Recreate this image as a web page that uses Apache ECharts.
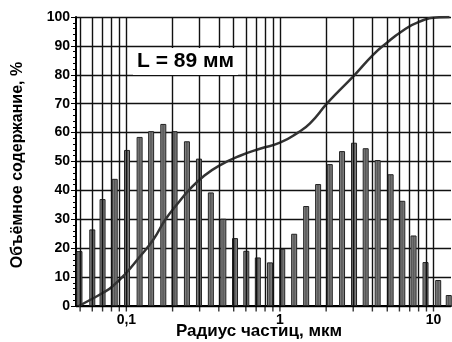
<!DOCTYPE html>
<html>
<head>
<meta charset="utf-8">
<script src="https://cdn.jsdelivr.net/npm/echarts@6/dist/echarts.min.js"></script>
<style>
  html, body { margin: 0; padding: 0; background: #fff; }
  #chart { width: 452px; height: 342px; }
</style>
</head>
<body>
<div id="chart"></div>
<script>
// радиусы частиц (мкм) и высоты столбцов (%)
var barRadius = [0.0495, 0.060, 0.070, 0.084, 0.101, 0.122, 0.145, 0.174, 0.206, 0.248,
                 0.297, 0.355, 0.428, 0.510, 0.604, 0.718, 0.861, 1.035, 1.238, 1.482,
                 1.773, 2.112, 2.538, 3.038, 3.618, 4.329, 5.258, 6.264, 7.417, 8.872,
                 10.73, 12.57];
var barValue = [19, 26.5, 37, 44, 54, 58.5, 60.5, 63, 60.5, 57,
                51, 39.3, 30.2, 23.5, 19.1, 16.8, 15.1, 19.8, 25, 34.6,
                42.2, 49.1, 53.6, 56.5, 54.6, 50.5, 45.6, 36.4, 24.4, 15.2,
                9, 3.8];
// интегральная кривая
var curveRadius = [0.049, 0.060, 0.070, 0.080, 0.100, 0.120, 0.150, 0.180, 0.220, 0.260,
                   0.320, 0.400, 0.550, 0.750, 1.0, 1.31, 1.57, 2.02, 2.45, 3.07,
                   4.04, 4.93, 6.17, 8.11, 10.9, 12.7];
var curveValue = [0, 2.5, 4.5, 6.5, 11.5, 16.5, 23, 30, 36, 40.5,
                  45, 48.5, 52, 54.5, 56.5, 60, 63.2, 70, 74.7, 80,
                  86.9, 90.9, 94.9, 98.4, 99.9, 100];
// вертикальные линии сетки
var gridX = [0.05, 0.06, 0.07, 0.08, 0.09, 0.1, 0.2, 0.3, 0.4, 0.5, 0.6, 0.7, 0.8, 0.9,
             1, 2, 3, 4, 5, 6, 7, 8, 9, 10];
var yTicks = [0, 10, 20, 30, 40, 50, 60, 70, 80, 90, 100];

var myChart = echarts.init(document.getElementById('chart'));

var bars = barRadius.map(function (r, i) { return [r, barValue[i]]; });
var curve = curveRadius.map(function (r, i) { return [r, curveValue[i]]; });
var ticks = gridX.map(function (v) { return [v, 0]; });

var option = {
    animation: false,
    grid: { left: 76, right: 1, top: 17, bottom: 36 },
    xAxis: {
        type: 'log',
        logBase: 10,
        min: 0.047,
        max: 13,
        axisLine: { lineStyle: { color: '#000', width: 2 } },
        axisTick: { show: false },
        splitLine: { show: false },
        axisLabel: {
            color: '#000',
            fontFamily: 'Liberation Sans',
            fontWeight: 'bold',
            fontSize: 14,
            margin: 7,
            showMinLabel: false,
            showMaxLabel: false,
            formatter: function (v) {
                var l = Math.log(v) / Math.LN10;
                if (Math.abs(l - Math.round(l)) > 1e-6) return '';
                return String(Math.round(v * 10) / 10).replace('.', ',');
            }
        }
    },
    yAxis: {
        type: 'value',
        min: yTicks[0],
        max: yTicks[yTicks.length - 1],
        interval: 10,
        axisLine: { show: true, lineStyle: { color: '#000', width: 2 } },
        axisTick: { show: true, length: 5, lineStyle: { color: '#000' } },
        minorTick: { show: true, splitNumber: 5, length: 3, lineStyle: { color: '#000' } },
        splitLine: { lineStyle: { color: '#111', width: 1.4 } },
        axisLabel: {
            color: '#000',
            fontFamily: 'Liberation Sans',
            fontWeight: 'bold',
            fontSize: 14,
            margin: 6
        }
    },
    graphic: [
        {
            type: 'text', left: 133, top: 48, z: 10,
            style: {
                text: 'L = 89 мм',
                fill: '#000',
                font: 'bold 21px "Liberation Sans"',
                backgroundColor: '#fff',
                padding: [3, 4, 3, 4]
            }
        },
        {
            type: 'text', x: 18, y: 165, rotation: Math.PI / 2, z: 10,
            style: {
                text: 'Объёмное содержание, %',
                fill: '#000',
                font: 'bold 16px "Liberation Sans"',
                align: 'center',
                verticalAlign: 'middle'
            }
        },
        {
            type: 'text', x: 259, y: 331, z: 10,
            style: {
                text: 'Радиус частиц, мкм',
                fill: '#000',
                font: 'bold 17px "Liberation Sans"',
                align: 'center',
                verticalAlign: 'middle'
            }
        }
    ],
    series: [
        {
            name: 'grid',
            type: 'line',
            data: [],
            z: 1,
            silent: true,
            markLine: {
                silent: true,
                symbol: ['none', 'none'],
                label: { show: false },
                lineStyle: { color: '#111', width: 1.4, type: 'solid' },
                data: gridX.map(function (v) { return { xAxis: v }; })
            }
        },
        {
            name: 'ticks',
            type: 'scatter',
            data: ticks,
            clip: false,
            silent: true,
            z: 1,
            symbol: 'rect',
            symbolSize: [1.4, 5],
            symbolOffset: [0, 3],
            itemStyle: { color: '#000' }
        },
        {
            name: 'bars',
            type: 'bar',
            data: bars,
            barWidth: 6,
            z: 3,
            itemStyle: {
                borderColor: '#222',
                borderWidth: 1,
                color: new echarts.graphic.LinearGradient(0, 0, 1, 0, [
                    { offset: 0, color: '#b5b5b5' },
                    { offset: 0.45, color: '#555' },
                    { offset: 1, color: '#9a9a9a' }
                ])
            }
        },
        {
            name: 'curve',
            type: 'line',
            data: curve,
            smooth: 0.5,
            symbol: 'none',
            z: 4,
            lineStyle: { color: '#333', width: 2.5 }
        }
    ]
};
myChart.setOption(option);
</script>
</body>
</html>
